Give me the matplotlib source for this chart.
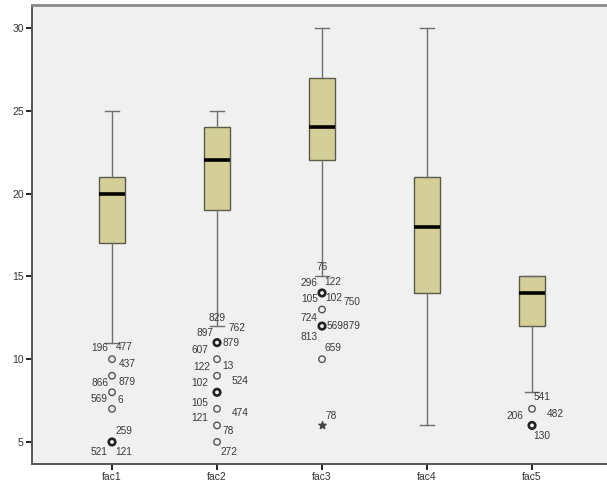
import matplotlib
matplotlib.use("Agg")
import matplotlib.pyplot as plt

# ---- data ----
categories = ["fac1", "fac2", "fac3", "fac4", "fac5"]
q1 = [17, 19, 22, 14, 12]
median = [20, 22, 24, 18, 14]
q3 = [21, 24, 27, 21, 15]
whisker_lo = [11, 12, 15, 6, 8]
whisker_hi = [25, 25, 30, 30, 15]

# outliers (circles) per category
outliers = [
    [10, 9, 8, 7, 5],
    [11, 10, 9, 8, 7, 6, 5],
    [14, 13, 12, 10],
    [],
    [7, 6],
]
# outliers drawn heavier (several cases at the same value)
outliers_bold = [
    [5],
    [11, 8],
    [14, 12],
    [],
    [6],
]
# extreme values (stars)
extremes = [[], [], [6], [], []]

# case labels: (category index, value, label)
case_labels = [
    (0, 10, "196"), (0, 10, "477"), (0, 10, "437"),
    (0, 9, "866"), (0, 9, "879"),
    (0, 8, "569"), (0, 8, "6"),
    (0, 5, "259"), (0, 5, "521"), (0, 5, "121"),
    (1, 12, "829"),
    (1, 11, "897"), (1, 11, "762"), (1, 11, "607"), (1, 11, "879"),
    (1, 10, "122"), (1, 10, "13"),
    (1, 9, "102"), (1, 9, "524"),
    (1, 7, "105"),
    (1, 6, "121"), (1, 6, "474"), (1, 6, "78"),
    (1, 5, "272"),
    (2, 15, "76"),
    (2, 14, "296"), (2, 14, "122"), (2, 14, "105"), (2, 14, "102"), (2, 14, "750"),
    (2, 13, "724"),
    (2, 12, "569879"), (2, 12, "813"),
    (2, 10, "659"),
    (2, 6, "78"),
    (4, 8, "541"),
    (4, 7, "206"), (4, 7, "482"),
    (4, 6, "130"),
]
# label offsets in pixels (dx, dy), same order as case_labels
label_offsets = [
    (-12, 11), (12, 12), (15, -5),
    (-12, -7), (15, -6),
    (-13, -7), (8, -8),
    (12, 11), (-13, -10), (12, -10),
    (0, 8),
    (-12, 10), (20, 15), (-17, -7), (14, 0),
    (-15, -8), (11, -7),
    (-17, -7), (23, -5),
    (-17, 6),
    (-17, 7), (23, 12), (11, -6),
    (12, -10),
    (0, 9),
    (-13, 10), (11, 11), (-12, -6), (12, -5), (30, -9),
    (-13, -8),
    (21, 0), (-13, -11),
    (11, 11),
    (9, 9),
    (10, -5),
    (-17, -7), (23, -5),
    (10, -11),
]

yticks = [5, 10, 15, 20, 25, 30]

# ---- styling ----
plt.rcParams["font.family"] = ["Liberation Sans", "DejaVu Sans"]
box_fill = "#d4cf98"
box_edge = "#5a5a4a"
whisker_col = "#707070"
txt_col = "#333333"
lbl_col = "#3a3a3a"

fig = plt.figure(figsize=(6.07, 4.88), dpi=100)
ax = fig.add_axes([32 / 607, 24 / 488, 1 - 32 / 607, (464 - 5) / 488])
ax.set_facecolor("#f0f0f0")

positions = list(range(1, len(categories) + 1))
stats = []
for i, name in enumerate(categories):
    stats.append(dict(label=name, q1=q1[i], med=median[i], q3=q3[i],
                      whislo=whisker_lo[i], whishi=whisker_hi[i], fliers=[]))

ax.bxp(stats, positions=positions, widths=0.25, patch_artist=True,
       showfliers=False,
       boxprops=dict(facecolor=box_fill, edgecolor=box_edge, linewidth=1.0),
       medianprops=dict(color="black", linewidth=2.6),
       whiskerprops=dict(color=whisker_col, linewidth=1.0),
       capprops=dict(color=whisker_col, linewidth=1.0),
       capwidths=0.13)

for i, pos in enumerate(positions):
    vals = [v for v in outliers[i] if v not in outliers_bold[i]]
    if vals:
        ax.scatter([pos] * len(vals), vals, s=22, facecolors="none",
                   edgecolors="#555555", linewidths=1.0, zorder=3)
    if outliers_bold[i]:
        ax.scatter([pos] * len(outliers_bold[i]), outliers_bold[i], s=22,
                   facecolors="none", edgecolors="#222222", linewidths=1.9,
                   zorder=3)
    if extremes[i]:
        ax.scatter([pos] * len(extremes[i]), extremes[i], s=30, marker="*",
                   color="#444444", zorder=3)

for (ci, val, txt), (dx, dy) in zip(case_labels, label_offsets):
    ax.annotate(txt, xy=(positions[ci], val), xytext=(dx, dy),
                textcoords="offset pixels", ha="center", va="center",
                fontsize=7.3, color=lbl_col)

ax.set_xlim(0.238, 5.714)
ax.set_ylim(3.67, 31.39)
ax.set_yticks(yticks)
ax.set_yticklabels([str(t) for t in yticks])
ax.set_xticks(positions)
ax.set_xticklabels(categories)
ax.tick_params(axis="both", direction="out", length=4, width=1.4,
               colors="#222222", labelsize=7.5, labelcolor=txt_col, pad=2)

for side in ["left", "bottom"]:
    ax.spines[side].set_color("#555555")
    ax.spines[side].set_linewidth(1.4)
ax.spines["top"].set_color("#8a8a8a")
ax.spines["top"].set_linewidth(2)
ax.spines["right"].set_visible(False)

fig.savefig("out.png", dpi=100, facecolor="white")
